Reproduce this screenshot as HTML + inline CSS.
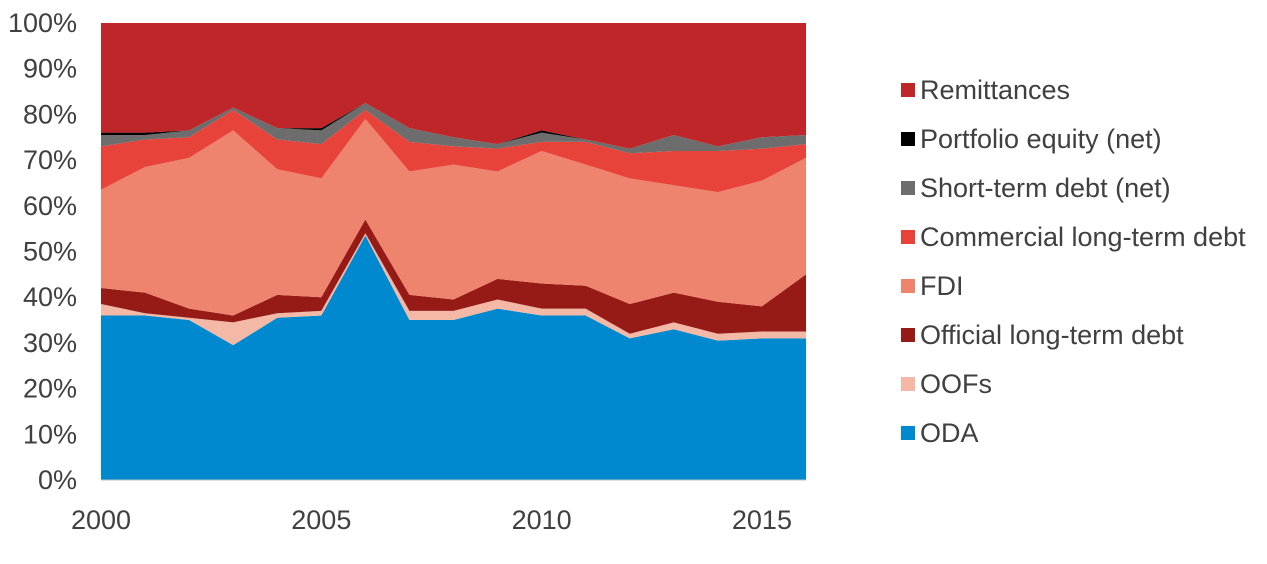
<!DOCTYPE html>
<html><head><meta charset="utf-8"><style>
body{margin:0;background:#fff;width:1267px;height:559px;overflow:hidden;font-family:"Liberation Sans",Arial,sans-serif}
</style></head><body>
<svg id="chart" width="1267" height="559" xmlns="http://www.w3.org/2000/svg"></svg>
<script>
const years=[2000,2001,2002,2003,2004,2005,2006,2007,2008,2009,2010,2011,2012,2013,2014,2015,2016];
const oda=[36,36,35,29.5,35.5,36,53.5,35,35,37.5,36,36,31,33,30.5,31,31];
const oofs=[2.5,0.5,0.5,5,1,1,0.5,2,2,2,1.5,1.5,1,1.5,1.5,1.5,1.5];
const officialLT=[3.5,4.5,2,1.5,4,3,3,3.5,2.5,4.5,5.5,5,6.5,6.5,7,5.5,12.5];
const fdi=[21.5,27.5,33,40.5,27.5,26,22,27,29.5,23.5,29,26.5,27.5,23.5,24,27.5,25.5];
const commercialLT=[9.5,6,4.5,4.5,6.5,7.5,2,6.5,4,5,2,5,5.5,7.5,9,7,3];
const shortTerm=[2.5,1,1.5,0.5,2.5,3,1.5,3,2,1,2,0.5,1,3.5,1,2.5,2];
const portfolio=[0.5,0.5,0,0,0,0.5,0,0,0,0,0.5,0,0,0,0,0,0];
const remittances=[24,24,23.5,18.5,23,23,17.5,23,25,26.5,23.5,25.5,27.5,24.5,27,25,24.5];
const seriesNames=["ODA","OOFs","Official long-term debt","FDI","Commercial long-term debt","Short-term debt (net)","Portfolio equity (net)","Remittances"];
const yTicks=[0,10,20,30,40,50,60,70,80,90,100];
const xTicks=[2000,2005,2010,2015];

const series=[oda,oofs,officialLT,fdi,commercialLT,shortTerm,portfolio,remittances];
const colors=["#0089CF","#F4B9A6","#961A16","#EE836E","#E8433B","#6D6D6D","#000000","#BF2629"];
const NS="http://www.w3.org/2000/svg";
const svg=document.getElementById('chart');
const X0=101,X1=806,Y0=480,Y1=23;
const x=v=>X0+(v-years[0])/(years[years.length-1]-years[0])*(X1-X0);
const y=v=>Y0-v/100*(Y0-Y1);
function el(t,a){const e=document.createElementNS(NS,t);for(const k in a)e.setAttribute(k,a[k]);svg.appendChild(e);return e;}
const totals=years.map((_,i)=>series.reduce((s,a)=>s+a[i],0));
let base=years.map(()=>0);
series.forEach((s,k)=>{
  const top=base.map((b,i)=>b+s[i]/totals[i]*100);
  let d="M"+years.map((yr,i)=>x(yr)+","+y(top[i])).join("L");
  for(let i=years.length-1;i>=0;i--)d+="L"+x(years[i])+","+y(base[i]);
  const p=el('path',{d:d+"Z",fill:colors[k]});
  
  
  base=top;
});
const ax=el('line',{x1:X0,x2:X1,y1:Y0,y2:Y0,stroke:"#bfbfbf","stroke-width":1});


yTicks.forEach(t=>{
  const e=el('text',{x:77,y:y(t)+9,"text-anchor":"end","font-size":27,fill:"#404040"});
  e.textContent=t+"%";
  
  
});
xTicks.forEach(t=>{
  const e=el('text',{x:x(t),y:529,"text-anchor":"middle","font-size":27,fill:"#404040"});
  e.textContent=t;
  
  
});
for(let k=series.length-1;k>=0;k--){
  const idx=series.length-1-k;
  const cy=90+idx*49;
  const g=document.createElementNS(NS,'g');svg.appendChild(g);
  
  
  const r=document.createElementNS(NS,'rect');
  r.setAttribute('x',901);r.setAttribute('y',cy-7);r.setAttribute('width',14);r.setAttribute('height',14);r.setAttribute('fill',colors[k]);
  g.appendChild(r);
  const t=document.createElementNS(NS,'text');
  t.setAttribute('x',920);t.setAttribute('y',cy+9);t.setAttribute('font-size',27);t.setAttribute('fill',"#404040");
  t.textContent=seriesNames[k];
  g.appendChild(t);
}
</script>
</body></html>
